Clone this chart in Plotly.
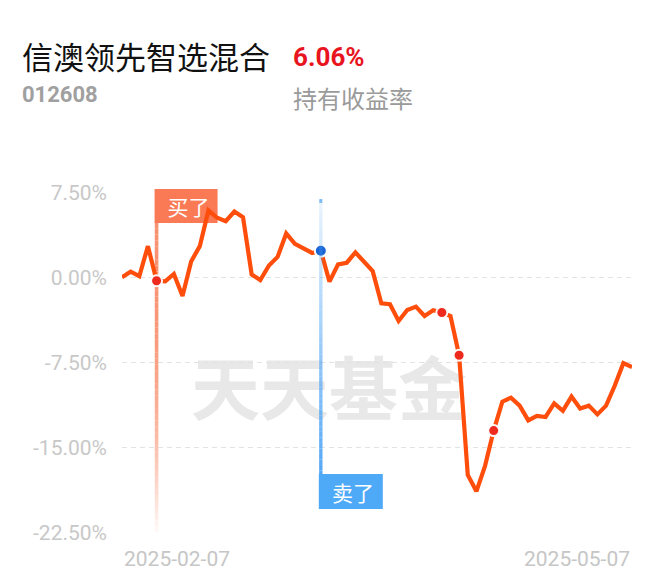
import plotly.graph_objects as go

# ---------------- data ----------------
dates = [
    "2025-02-07", "2025-02-10", "2025-02-11", "2025-02-12", "2025-02-13", "2025-02-14",
    "2025-02-17", "2025-02-18", "2025-02-19", "2025-02-20", "2025-02-21",
    "2025-02-24", "2025-02-25", "2025-02-26", "2025-02-27", "2025-02-28",
    "2025-03-03", "2025-03-04", "2025-03-05", "2025-03-06", "2025-03-07",
    "2025-03-10", "2025-03-11", "2025-03-12", "2025-03-13", "2025-03-14",
    "2025-03-17", "2025-03-18", "2025-03-19", "2025-03-20", "2025-03-21",
    "2025-03-24", "2025-03-25", "2025-03-26", "2025-03-27", "2025-03-28",
    "2025-03-31", "2025-04-01", "2025-04-02", "2025-04-03",
    "2025-04-07", "2025-04-08", "2025-04-09", "2025-04-10", "2025-04-11",
    "2025-04-14", "2025-04-15", "2025-04-16", "2025-04-17", "2025-04-18",
    "2025-04-21", "2025-04-22", "2025-04-23", "2025-04-24", "2025-04-25",
    "2025-04-28", "2025-04-29", "2025-04-30", "2025-05-06", "2025-05-07",
]
returns_pct = [
    0.0, 0.5, 0.1, 2.75, -0.3, -0.35, 0.3, -1.65, 1.4, 2.75,
    5.9, 5.25, 4.95, 5.8, 5.3, 0.26, -0.23, 1.05, 1.8, 3.87,
    2.96, 2.55, 2.15, 2.35, -0.38, 1.14, 1.29, 2.2, 1.35, 0.55,
    -2.29, -2.37, -3.84, -2.87, -2.58, -3.4, -2.9, -3.1, -3.4, -6.86,
    -17.4, -18.85, -16.6, -13.5, -10.95, -10.6, -11.3, -12.6, -12.2, -12.3,
    -11.1, -11.76, -10.5, -11.55, -11.3, -12.07, -11.3, -9.55, -7.56, -7.9,
]
buy_dates = ["2025-02-13"]
sell_dates = ["2025-03-12"]
other_buy_dates = ["2025-04-01", "2025-04-03", "2025-04-10"]
y_ticks = [7.5, 0.0, -7.5, -15.0, -22.5]
y_tick_labels = ["7.50%", "0.00%", "-7.50%", "-15.00%", "-22.50%"]
fund_name = "信澳领先智选混合"
fund_code = "012608"
hold_return = "6.06%"
hold_return_label = "持有收益率"
watermark = "天天基金"
buy_label = "买了"
sell_label = "卖了"

# ---------------- layout helpers ----------------
W, H = 660, 585
L, R, T, B = 122, 632, 192, 533


def px(x):
    return (x - L) / (R - L)


def py(y):
    return (B - y) / (B - T)


val_of = dict(zip(dates, returns_pct))
LINE = "#FF4E0C"
CJK = "Noto Sans CJK SC"
NUM = "Roboto"

fig = go.Figure()
fig.add_trace(go.Scatter(
    x=dates, y=returns_pct, mode="lines",
    line=dict(color=LINE, width=4.2, shape="linear"),
    hoverinfo="skip",
))
red_pts = buy_dates + other_buy_dates
fig.add_trace(go.Scatter(
    x=red_pts, y=[val_of[d] for d in red_pts], mode="markers",
    marker=dict(color="#EE2A1E", size=11, line=dict(color="rgba(255,255,255,0.95)", width=2)),
    hoverinfo="skip",
))
fig.add_trace(go.Scatter(
    x=sell_dates, y=[val_of[d] for d in sell_dates], mode="markers",
    marker=dict(color="#1A64D6", size=12, line=dict(color="white", width=2)),
    hoverinfo="skip",
))

shapes = []
annotations = []
# watermark (below traces)
shapes.append(dict(
    type="rect", xref="paper", yref="paper", layer="below",
    x0=px(190), x1=px(468), y0=py(433), y1=py(359),
    line=dict(width=0), fillcolor="rgba(0,0,0,0)",
    label=dict(text=watermark, font=dict(family=CJK, size=69, color="#E8E8E8", weight="bold"),
               textposition="middle center"),
))

N = 50
# buy vertical gradient line + label box
y_top, y_bot = 222, 532
for d in buy_dates:
    for k in range(N):
        a = y_top + (y_bot - y_top) * k / N
        b = y_top + (y_bot - y_top) * (k + 1) / N
        t = k / (N - 1)
        alpha = 0.92 - 0.86 * t ** 2.5
        shapes.append(dict(
            type="line", xref="x", yref="paper", layer="below",
            x0=d, x1=d, y0=py(a), y1=py(b),
            line=dict(color=f"rgba(247,136,100,{alpha:.3f})", width=3.6),
        ))
    shapes.append(dict(
        type="rect", xref="x", yref="paper", layer="below",
        xsizemode="pixel", xanchor=d, x0=-2, x1=61,
        y0=py(223), y1=py(189),
        line=dict(width=0), fillcolor="#FA7A56",
    ))
    annotations.append(dict(
        text=buy_label, xref="x", yref="paper", x=d, y=py(206),
        xanchor="left", yanchor="middle", xshift=-2, showarrow=False,
        width=63, align="center",
        font=dict(family=CJK, size=21, color="white"),
    ))

# sell vertical gradient line + label box
y_top2, y_bot2 = 200, 476
for d in sell_dates:
    for k in range(N):
        a = y_top2 + (y_bot2 - y_top2) * k / N
        b = y_top2 + (y_bot2 - y_top2) * (k + 1) / N
        t = k / (N - 1)
        alpha = 0.12 + 0.85 * t
        shapes.append(dict(
            type="line", xref="x", yref="paper", layer="above",
            x0=d, x1=d, y0=py(a), y1=py(b),
            line=dict(color=f"rgba(80,165,245,{alpha:.3f})", width=3.4),
        ))
    shapes.append(dict(
        type="line", xref="x", yref="paper", layer="above",
        x0=d, x1=d, y0=py(199), y1=py(203),
        line=dict(color="rgba(80,165,245,0.7)", width=3),
    ))
    shapes.append(dict(
        type="rect", xref="x", yref="paper", layer="above",
        xsizemode="pixel", xanchor=d, x0=-2, x1=62,
        y0=py(509), y1=py(474),
        line=dict(width=0), fillcolor="#4EA9F7",
    ))
    annotations.append(dict(
        text=sell_label, xref="x", yref="paper", x=d, y=py(491.5),
        xanchor="left", yanchor="middle", xshift=-2, showarrow=False,
        width=64, align="center",
        font=dict(family=CJK, size=21, color="white"),
    ))

annotations += [
    dict(text=fund_name, xref="paper", yref="paper", x=px(20), y=py(56),
         xanchor="left", yanchor="middle", showarrow=False,
         font=dict(family=CJK, size=31, color="#111111")),
    dict(text="<b>" + hold_return + "</b>", xref="paper", yref="paper", x=px(291), y=py(57),
         xanchor="left", yanchor="middle", showarrow=False,
         font=dict(family=NUM, size=26, color="#E8141E")),
    dict(text="<b>" + fund_code + "</b>", xref="paper", yref="paper", x=px(20), y=py(94),
         xanchor="left", yanchor="middle", showarrow=False,
         font=dict(family=NUM, size=22, color="#A0A0A0")),
    dict(text=hold_return_label, xref="paper", yref="paper", x=px(291), y=py(97),
         xanchor="left", yanchor="middle", showarrow=False,
         font=dict(family=CJK, size=24, color="#9A9A9A")),
    dict(text=dates[0], xref="x", yref="paper", x=dates[0], y=py(559),
         xanchor="left", yanchor="middle", showarrow=False,
         font=dict(family=NUM, size=21, color="#C6C6C6")),
    dict(text=dates[-1], xref="x", yref="paper", x=dates[-1], y=py(559),
         xanchor="right", yanchor="middle", showarrow=False,
         font=dict(family=NUM, size=21, color="#C6C6C6")),
]

fig.update_layout(
    width=W, height=H,
    margin=dict(l=L, r=W - R, t=T, b=H - B, pad=0),
    paper_bgcolor="white", plot_bgcolor="white",
    showlegend=False,
    shapes=shapes, annotations=annotations,
    xaxis=dict(type="category", range=[0, len(dates) - 1], showgrid=False,
               showticklabels=False, zeroline=False, showline=False, ticks=""),
    yaxis=dict(range=[-22.52, 7.52], tickvals=y_ticks, ticktext=y_tick_labels,
               showgrid=True, gridcolor="#E2E2E2", gridwidth=1.5, griddash="5px,4px",
               zeroline=False, showline=False, ticks="",
               ticklabelstandoff=14,
               tickfont=dict(family=NUM, size=21, color="#C8C8C8")),
)

fig.write_html(
    "out.html",
    config={"displayModeBar": False, "staticPlot": True},
    post_script="document.body.style.margin='0px';document.body.style.overflow='hidden';",
)
